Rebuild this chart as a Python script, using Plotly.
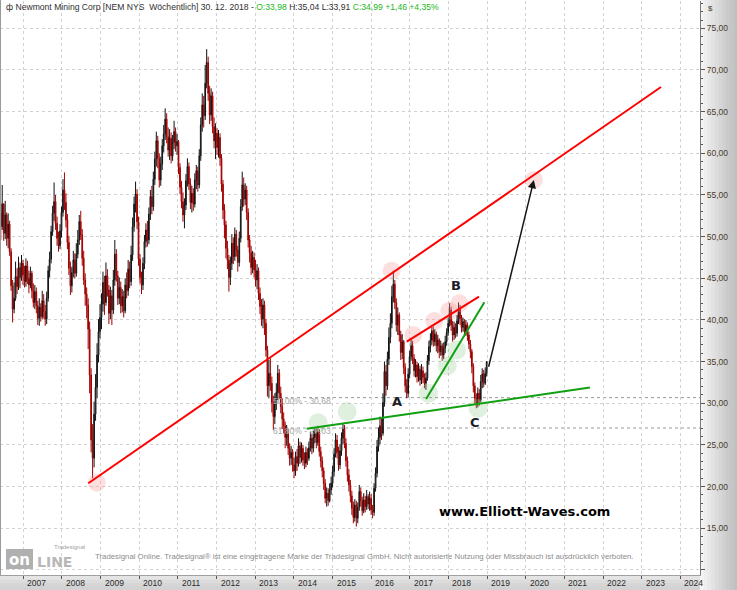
import plotly.graph_objects as go
import pandas as pd

# Newmont Mining (NEM), 2-Wochen-Kerzen von Juni 2006 bis 28.12.2018
close = [
    # 2006
    52.8, 51.2, 53.9, 50.4, 52.6, 49.8, 51.5, 48.2, 44.1, 41.3, 42.6, 45.2, 44.0, 46.3, 45.1, 46.8, 45.4,
    # 2007
    44.6, 46.5, 45.0, 44.2, 45.6, 43.5, 42.1, 43.4, 41.7, 40.2, 41.5, 40.4, 42.3, 41.0, 40.1, 42.6,
    45.9, 47.3, 50.6, 52.8, 54.2, 51.6, 49.8, 48.9, 50.7, 52.9,
    # 2008
    55.6, 54.1, 52.0, 49.3, 46.2, 44.1, 45.7, 47.2, 45.6, 47.9, 49.6, 51.8, 50.2, 47.4, 44.8, 43.1,
    41.8, 38.9, 33.4, 25.6, 23.4, 28.7, 31.9, 35.8, 38.6, 40.3,
    # 2009
    41.9, 44.5, 42.1, 45.3, 43.6, 40.8, 42.9, 41.2, 44.8, 47.9, 45.3, 42.6, 43.9, 41.7, 42.8, 41.1,
    44.2, 43.5, 46.1, 44.6, 47.8, 51.2, 53.9, 55.1, 51.8, 47.3,
    # 2010
    45.1, 44.2, 46.8, 49.4, 50.8, 49.6, 52.7, 54.8, 53.6, 56.9, 59.3, 61.5, 59.4, 56.8, 58.7, 60.9,
    62.3, 64.1, 62.0, 60.4, 61.8, 59.7, 61.3, 62.6, 60.9, 61.4,
    # 2011
    58.3, 55.9, 54.2, 52.6, 53.8, 56.7, 58.4, 56.3, 54.1, 55.2, 53.9, 56.8, 57.9, 56.2, 59.7, 63.4,
    65.8, 64.5, 68.4, 70.9, 67.2, 64.6, 66.9, 63.2, 61.5, 62.4,
    # 2012
    60.7, 61.9, 59.4, 56.3, 53.2, 51.4, 48.6, 47.2, 45.1, 46.8, 49.2, 47.6, 50.3, 48.4, 46.9, 49.8,
    53.6, 56.2, 54.5, 55.6, 52.9, 49.6, 48.1, 46.3, 47.5, 46.0,
    # 2013
    44.8, 45.9, 43.2, 41.6, 40.1, 41.8, 39.6, 36.4, 32.1, 33.6, 32.4, 30.1, 28.4, 29.9, 31.3, 33.6,
    31.2, 29.6, 28.1, 27.3, 25.9, 26.4, 24.6, 23.4, 24.1, 22.6,
    # 2014
    21.9, 23.6, 22.8, 24.9, 23.5, 24.6, 23.2, 22.8, 24.1, 23.4, 24.7, 25.8, 24.6, 25.9, 26.4, 25.3,
    26.5, 24.2, 23.1, 21.9, 20.4, 18.6, 19.2, 18.3, 19.6, 20.4,
    # 2015
    21.8, 23.9, 25.6, 24.1, 22.6, 24.3, 25.8, 26.9, 25.2, 23.1, 21.4, 20.2, 18.9, 17.4, 16.3, 17.8,
    16.2, 17.5, 19.4, 18.3, 17.1, 18.4, 17.6, 18.8, 17.9, 18.6,
    # 2016
    17.2, 16.9, 19.8, 21.6, 24.8, 25.9, 27.3, 26.4, 30.1, 33.8, 32.1, 35.3, 37.9, 39.6, 42.8, 44.3,
    42.1, 39.4, 40.6, 38.2, 36.1, 37.4, 34.3, 32.1, 31.2, 33.5,
    # 2017
    35.6, 36.9, 35.4, 33.9, 34.6, 33.2, 34.1, 32.8, 33.9, 33.1, 32.4, 33.0, 35.1, 36.8, 37.6, 38.7,
    37.4, 38.3, 36.9, 37.6, 36.2, 36.9, 35.8, 36.6, 37.4, 38.5, 39.6,
    # 2018
    41.2, 39.4, 38.2, 39.1, 38.4, 39.9, 41.3, 40.2, 39.1, 39.8, 38.6, 39.4, 38.2, 37.1, 36.2, 34.4,
    32.1, 30.6, 30.0, 31.2, 30.4, 32.6, 33.5, 32.4, 33.6, 34.99,
]
high = [
    # 2006
    55.0, 54.1, 56.2, 54.0, 54.3, 52.9, 52.8, 51.9, 48.6, 44.8, 44.5, 47.0, 46.2, 47.6, 46.9, 47.8, 47.2,
    # 2007
    46.5, 47.4, 47.1, 45.9, 46.4, 45.9, 44.4, 44.2, 43.9, 42.3, 42.6, 42.0, 43.5, 43.1, 41.8, 43.4,
    46.5, 48.2, 51.3, 53.7, 56.5, 55.0, 52.4, 50.6, 51.5, 53.6,
    # 2008
    56.9, 57.7, 55.2, 52.7, 50.1, 47.0, 46.4, 48.3, 48.0, 49.2, 50.8, 52.6, 53.1, 50.9, 48.3, 45.6,
    43.9, 42.6, 39.8, 34.2, 27.5, 30.2, 33.5, 37.2, 40.1, 41.9,
    # 2009
    43.2, 45.8, 45.3, 46.9, 46.1, 44.2, 44.0, 43.6, 46.0, 49.6, 48.5, 45.9, 45.1, 44.6, 43.7, 43.5,
    45.0, 45.7, 47.2, 47.0, 48.9, 52.3, 54.8, 56.6, 55.7, 52.4,
    # 2010
    47.9, 45.8, 47.5, 50.2, 51.6, 51.9, 53.5, 55.6, 56.1, 57.8, 60.2, 62.6, 62.1, 60.0, 59.6, 61.7,
    63.4, 65.4, 64.8, 63.1, 62.9, 62.5, 62.2, 63.9, 63.1, 62.3,
    # 2011
    61.6, 58.8, 56.7, 55.3, 54.6, 57.5, 59.4, 58.9, 57.0, 56.1, 55.8, 57.6, 58.6, 58.4, 60.5, 64.3,
    67.2, 66.9, 70.6, 72.5, 71.6, 68.1, 67.8, 67.4, 64.3, 63.6,
    # 2012
    63.0, 62.8, 62.4, 59.9, 56.8, 53.9, 51.9, 49.5, 47.8, 47.6, 50.3, 49.9, 51.1, 50.8, 48.9, 50.6,
    54.5, 57.8, 57.1, 56.4, 56.1, 53.4, 50.2, 48.9, 48.3, 48.1,
    # 2013
    47.2, 46.7, 46.3, 43.9, 42.5, 42.6, 42.3, 40.1, 36.9, 35.2, 35.4, 33.2, 30.9, 31.2, 32.4, 34.6,
    34.1, 32.0, 30.6, 28.9, 27.8, 27.4, 26.9, 25.2, 24.9, 24.5,
    # 2014
    23.4, 24.2, 24.5, 25.8, 25.4, 25.3, 25.0, 24.1, 24.8, 24.6, 25.4, 26.6, 26.3, 26.7, 27.1, 27.0,
    27.3, 26.9, 24.8, 23.6, 22.3, 20.9, 19.9, 19.8, 20.4, 21.2,
    # 2015
    22.5, 24.6, 26.4, 26.2, 24.8, 25.1, 26.5, 27.6, 27.4, 25.8, 23.6, 22.1, 20.8, 19.5, 18.2, 18.5,
    18.3, 18.1, 20.2, 19.9, 18.8, 19.2, 18.9, 19.6, 19.1, 19.4,
    # 2016
    19.1, 17.8, 20.4, 22.3, 25.6, 27.1, 28.4, 28.2, 31.2, 35.0, 34.6, 36.2, 39.1, 40.8, 44.1, 45.9,
    44.8, 42.6, 41.5, 40.9, 38.7, 38.3, 37.6, 34.8, 32.9, 34.2,
    # 2017
    36.3, 37.8, 37.5, 35.9, 35.3, 35.0, 34.8, 34.5, 34.7, 34.4, 33.6, 33.7, 35.8, 37.5, 38.4, 39.4,
    39.2, 38.9, 38.6, 38.2, 37.8, 37.5, 37.2, 37.3, 38.1, 39.0, 40.3,
    # 2018
    42.0, 41.6, 39.9, 39.8, 39.6, 40.6, 42.1, 41.8, 40.6, 40.3, 40.1, 40.0, 39.7, 38.6, 37.6, 36.5,
    34.8, 32.5, 31.2, 31.9, 31.7, 33.4, 34.2, 34.0, 34.3, 35.04,
]
low = [
    # 2006
    50.1, 49.6, 50.8, 49.5, 49.7, 48.9, 48.6, 47.7, 43.5, 39.7, 40.8, 42.3, 43.1, 43.6, 43.8, 44.7, 44.2,
    # 2007
    43.9, 44.0, 44.3, 43.2, 43.8, 42.6, 41.5, 41.3, 40.8, 39.4, 39.3, 39.8, 40.1, 40.2, 39.3, 39.5,
    42.2, 45.1, 46.8, 50.1, 51.9, 50.8, 48.9, 48.2, 48.5, 49.9,
    # 2008
    52.4, 53.2, 51.1, 48.5, 45.4, 43.0, 43.3, 45.1, 45.0, 45.2, 47.4, 49.0, 49.6, 46.5, 44.2, 41.7,
    40.2, 36.5, 31.2, 24.1, 21.0, 22.3, 27.9, 30.6, 34.9, 37.8,
    # 2009
    38.9, 41.0, 40.6, 41.7, 42.8, 39.5, 40.1, 39.4, 40.7, 44.1, 44.6, 41.8, 41.9, 40.8, 40.9, 40.3,
    40.8, 42.6, 42.9, 43.8, 44.1, 47.1, 50.6, 52.9, 50.9, 46.5,
    # 2010
    44.4, 43.1, 43.6, 46.1, 48.7, 48.8, 49.1, 52.0, 52.7, 53.1, 56.2, 58.4, 58.2, 55.9, 56.1, 58.0,
    60.1, 61.6, 61.2, 59.6, 59.2, 58.8, 59.1, 60.5, 60.2, 59.8,
    # 2011
    57.5, 55.1, 53.4, 51.8, 51.0, 53.2, 56.0, 55.6, 53.3, 52.9, 53.1, 53.5, 55.7, 55.4, 55.8, 59.1,
    62.6, 63.1, 64.0, 67.8, 66.3, 63.5, 63.9, 62.4, 60.6, 59.3,
    # 2012
    59.8, 59.5, 58.5, 55.4, 52.1, 49.8, 47.4, 46.1, 43.4, 44.2, 46.0, 46.7, 47.1, 47.6, 45.8, 46.4,
    49.3, 53.1, 53.6, 53.8, 52.0, 48.7, 46.9, 45.4, 45.6, 45.1,
    # 2013
    44.0, 43.7, 42.4, 40.7, 39.3, 39.0, 38.2, 35.6, 30.8, 30.6, 31.5, 28.9, 26.8, 27.5, 29.2, 30.4,
    30.5, 28.8, 26.9, 26.4, 24.6, 24.9, 23.8, 22.5, 22.6, 21.8,
    # 2014
    21.0, 21.3, 21.9, 22.4, 22.7, 22.9, 22.5, 22.1, 22.3, 22.6, 23.1, 24.2, 23.9, 24.1, 25.2, 24.6,
    24.9, 23.6, 22.3, 21.1, 19.6, 18.0, 17.6, 17.7, 18.1, 19.0,
    # 2015
    19.9, 21.2, 23.5, 23.4, 21.9, 22.1, 23.7, 25.1, 24.6, 22.4, 20.6, 19.4, 18.1, 16.6, 15.6, 15.8,
    15.2, 15.6, 17.1, 17.6, 16.5, 16.8, 16.9, 17.2, 17.3, 17.1,
    # 2016
    16.6, 16.2, 16.5, 19.4, 21.1, 24.2, 25.1, 25.6, 26.1, 29.6, 30.9, 31.6, 34.6, 37.2, 39.0, 42.1,
    41.3, 38.6, 38.2, 37.4, 35.2, 35.3, 33.5, 31.3, 30.6, 30.7,
    # 2017
    33.0, 35.1, 34.7, 33.2, 33.1, 32.5, 32.6, 32.1, 32.3, 32.4, 31.8, 31.6, 32.7, 34.6, 36.1, 37.0,
    36.8, 36.9, 36.2, 36.0, 35.4, 35.7, 35.1, 35.3, 36.0, 36.9, 38.1,
    # 2018
    39.2, 38.7, 37.4, 37.6, 37.8, 38.0, 39.5, 39.4, 38.5, 38.6, 38.0, 38.1, 37.5, 36.5, 35.4, 33.6,
    31.3, 29.8, 29.4, 29.5, 29.7, 30.1, 31.8, 31.9, 32.2, 33.2,
]
first_open = 53.4
open_ = [first_open] + close[:-1]
dates = pd.date_range(end="2018-12-28", periods=len(close), freq="14D")

# Trendlinien und Markierungen (Dezimaljahr, Kurs)
red_long = [(2008.682, 20.40), (2023.50, 67.96)]
red_short = [(2016.92, 37.39), (2018.79, 42.79)]
green_long = [(2014.33, 26.95), (2021.66, 31.88)]
green_steep = [(2017.42, 30.51), (2018.93, 42.12)]
arrow_path = [(2019.03, 34.2), (2020.21, 56.8)]
pink_marks = [(2008.90, 20.47), (2016.53, 45.91), (2020.21, 56.8), (2017.09, 38.2),
              (2017.63, 39.87), (2018.02, 41.1), (2018.28, 42.0)]
green_marks = [(2014.63, 27.67), (2015.38, 29.0), (2018.77, 29.4), (2017.48, 31.2),
               (2017.97, 34.5), (2018.21, 36.4)]
fib_levels = [30.68, 27.03]
fib_labels = ["50,00% - 30,68", "61,80% - 27,03"]
fib_start = 2013.46
wave_labels = [("A", 2016.66, 30.19), ("B", 2018.19, 44.13), ("C", 2018.69, 27.7)]

years = list(range(2007, 2025))
price_ticks = list(range(10, 80, 5))

W, H = 737, 590
ML, MR, MT, MB = 0, 37, 1, 15
PW, PH = W - ML - MR, H - MT - MB
T0, T1 = 2006.397, 2024.508


def yr(t):
    y = int(t)
    a = pd.Timestamp(year=y, month=1, day=1)
    b = pd.Timestamp(year=y + 1, month=1, day=1)
    return (a + (b - a) * (t - y)).strftime("%Y-%m-%d %H:%M")


def px(x):
    return (x - ML) / PW


def py(y):
    return (H - MB - y) / PH


fig = go.Figure()

# Fibonacci-Beschriftung hinter den Kerzen
fig.add_trace(go.Scatter(
    x=[yr(fib_start)] * 2, y=fib_levels, mode="text", text=fib_labels,
    textposition="bottom right", textfont=dict(size=8.5, color="#a8a8a8", family="Liberation Sans"),
    hoverinfo="skip", showlegend=False
))

fig.add_trace(go.Candlestick(
    x=dates, open=open_, high=high, low=low, close=close,
    increasing=dict(line=dict(color="#111111", width=1), fillcolor="#a8a8a8"),
    decreasing=dict(line=dict(color="#a00000", width=1), fillcolor="#e00000"),
    whiskerwidth=0, showlegend=False, name="NEM"
))

shapes = []

# Hintergrund: Preisachse rechts und Zeitachse unten (Verlauf)
grays = ["#f4f4f4", "#eeeeee", "#e8e8e8", "#e2e2e2", "#dcdcdc", "#d6d6d6", "#d0d0d0", "#cacaca", "#c5c5c5", "#c0c0c0"]
step = (W - 700) / len(grays)
for k, g in enumerate(grays):
    shapes.append(dict(type="rect", xref="paper", yref="paper", x0=px(700 + k * step), x1=px(700 + (k + 1) * step + 0.5),
                       y0=py(H), y1=py(0), fillcolor=g, line=dict(width=0), layer="below"))
band = ["#e4e4e4", "#dcdcdc", "#d6d6d6", "#d2d2d2"]
for k, g in enumerate(band):
    shapes.append(dict(type="rect", xref="paper", yref="paper", x0=px(0), x1=px(700),
                       y0=py(576 + k * 3.5), y1=py(576 + (k + 1) * 3.5 + 0.5), fillcolor=g, line=dict(width=0), layer="below"))
shapes.append(dict(type="line", xref="paper", yref="paper", x0=px(0.5), x1=px(0.5), y0=py(575), y1=py(0),
                   line=dict(color="#9a9a9a", width=1)))

# Fibonacci-Linien
for lvl in fib_levels:
    shapes.append(dict(type="line", x0=yr(fib_start), x1=yr(T1), y0=lvl, y1=lvl,
                       line=dict(color="#9a9a9a", width=1, dash="dot"), layer="below"))

# Markierungskreise
for t, v in pink_marks:
    shapes.append(dict(type="circle", xsizemode="pixel", ysizemode="pixel", xanchor=yr(t), yanchor=v,
                       x0=-9, x1=9, y0=-9, y1=9, fillcolor="rgba(250,150,150,0.3)", line=dict(width=0)))
for t, v in green_marks:
    shapes.append(dict(type="circle", xsizemode="pixel", ysizemode="pixel", xanchor=yr(t), yanchor=v,
                       x0=-9.5, x1=9.5, y0=-9.5, y1=9.5, fillcolor="rgba(140,200,140,0.28)", line=dict(width=0)))

# Trendlinien
for pts, col in [(red_long, "#ff0000"), (red_short, "#ff0000"), (green_long, "#11a011"), (green_steep, "#11a011")]:
    (t0, v0), (t1, v1) = pts
    shapes.append(dict(type="line", x0=yr(t0), y0=v0, x1=yr(t1), y1=v1, line=dict(color=col, width=2)))

# Logo unten links
shapes.append(dict(type="rect", xref="paper", yref="paper", x0=px(6), x1=px(33), y0=py(569), y1=py(549),
                   fillcolor="#b0b0b0", line=dict(width=0)))

annotations = []
annotations.append(dict(
    xref="paper", yref="paper", x=px(4), y=py(7), xanchor="left", yanchor="middle", showarrow=False,
    text="ф Newmont Mining Corp [NEM NYS  Wöchentlich] 30. 12. 2018 - "
         "<span style='color:#22b822'>O:33,98</span> H:35,04 L:33,91 "
         "<span style='color:#22b822'>C:34,99 +1,46 +4,35%</span>",
    font=dict(size=8.6, color="#303030", family="Liberation Sans")
))
annotations.append(dict(xref="paper", yref="paper", x=px(706), y=py(8), xanchor="left", yanchor="middle",
                        showarrow=False, text="$", font=dict(size=8, color="#4a3a2a", family="Liberation Sans")))
# Jahresbeschriftung rechts neben dem Tick, wie im Original
for y in years:
    xt = 23.3 + (y - 2007) * PW / (T1 - T0)
    annotations.append(dict(xref="paper", yref="paper", x=px(xt + 2), y=py(583), xanchor="left", yanchor="middle",
                            showarrow=False, text=str(y), font=dict(size=8.5, color="#2b2b2b", family="Liberation Sans")))
annotations.append(dict(
    x=yr(arrow_path[1][0]), y=arrow_path[1][1], ax=yr(arrow_path[0][0]), ay=arrow_path[0][1],
    axref="x", ayref="y", text="", showarrow=True, arrowhead=2, arrowsize=1.1, arrowwidth=1.5, arrowcolor="#151515"
))
for txt, t, v in wave_labels:
    annotations.append(dict(x=yr(t), y=v, text=f"<b>{txt}</b>", showarrow=False, xanchor="center", yanchor="middle",
                            font=dict(size=13, color="#1c1c28", family="DejaVu Sans")))
annotations.append(dict(xref="paper", yref="paper", x=px(524), y=py(511), xanchor="center", yanchor="middle",
                        text="<b>www.Elliott-Waves.com</b>",
                        showarrow=False, font=dict(size=13, color="#000000", family="DejaVu Sans")))
annotations.append(dict(
    xref="paper", yref="paper", x=px(93), y=py(556), xanchor="left", yanchor="middle", showarrow=False,
    text="Tradesignal Online. Tradesignal® ist eine eingetragene Marke der Tradesignal GmbH. "
         "Nicht autorisierte Nutzung oder Missbrauch ist ausdrücklich verboten.",
    font=dict(size=7.8, color="#8c8c8c", family="Liberation Sans")
))
annotations.append(dict(xref="paper", yref="paper", x=px(19.5), y=py(560), xanchor="center", yanchor="middle",
                        text="<b>on</b>", showarrow=False, font=dict(size=15, color="#ffffff", family="DejaVu Sans")))
annotations.append(dict(xref="paper", yref="paper", x=px(35), y=py(562), xanchor="left", yanchor="middle",
                        text="<b>LINE</b>", showarrow=False, font=dict(size=14, color="#b8b8b8", family="DejaVu Sans")))
annotations.append(dict(xref="paper", yref="paper", x=px(52), y=py(547), xanchor="left", yanchor="middle",
                        text="Tradesignal", showarrow=False, font=dict(size=6, color="#a0a0a0", family="Liberation Sans")))

fig.update_layout(
    width=W, height=H,
    margin=dict(l=ML, r=MR, t=MT, b=MB, autoexpand=False),
    paper_bgcolor="white", plot_bgcolor="white",
    showlegend=False,
    shapes=shapes, annotations=annotations,
    font=dict(family="Liberation Sans", color="#303030"),
    xaxis=dict(
        type="date", range=[yr(T0), yr(T1)],
        rangeslider=dict(visible=False),
        tickvals=[f"{y}-01-01" for y in years], showticklabels=False,
        showgrid=True, gridcolor="#d2d2d2", griddash="dot", gridwidth=1,
        showline=True, linecolor="#a0a0a0", linewidth=1,
        ticks="outside", ticklen=3, tickcolor="#555555", zeroline=False
    ),
    yaxis=dict(
        side="right", range=[9.39, 78.28],
        tickvals=price_ticks, ticktext=[("" if v == 10 else f"{v:.2f}".replace(".", ",")) for v in price_ticks],
        showgrid=True, gridcolor="#d2d2d2", griddash="dot", gridwidth=1,
        showline=True, linecolor="#7a7a7a", linewidth=1,
        ticks="outside", ticklen=4, tickcolor="#555555",
        minor=dict(dtick=1, tick0=0, ticklen=2, tickcolor="#555555", showgrid=False),
        tickfont=dict(size=8.5, color="#4a3a2a"), zeroline=False, automargin=False
    ),
)

# Seitenrand des Browsers entfernen, damit die Grafik bei (0,0) beginnt
fig.write_html("out.html", config={"displayModeBar": False},
               post_script="document.body.style.margin='0';")
